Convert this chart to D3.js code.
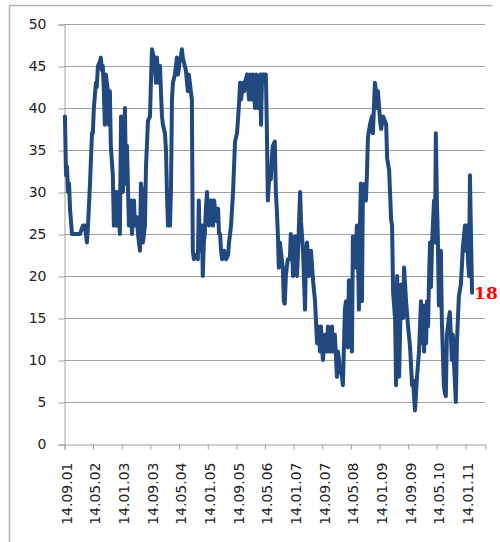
<!DOCTYPE html>
<html>
<head>
<meta charset="utf-8">
<script src="https://cdn.jsdelivr.net/npm/d3@7"></script>
<style>
  html, body { margin: 0; padding: 0; background: #ffffff; }
  svg { display: block; }
</style>
</head>
<body>
<svg id="chart" width="500" height="542"></svg>
<script>
// ---- data ----
const dates = [
"2001-09-22","2001-10-01","2001-10-10","2001-10-18","2001-10-27","2001-11-04","2001-11-21","2001-12-25","2002-01-28","2002-02-22","2002-03-11","2002-03-28","2002-04-06","2002-04-23","2002-05-10",
"2002-05-17","2002-05-26","2002-06-12","2002-06-20","2002-06-29","2002-07-16","2002-07-24","2002-08-02","2002-08-10","2002-08-19","2002-08-27","2002-09-05","2002-09-13","2002-09-22","2002-09-30","2002-10-09","2002-10-17","2002-11-03","2002-11-12","2002-11-20","2002-11-29","2002-12-07","2002-12-16","2003-01-02",
"2003-01-12","2003-01-20","2003-01-28","2003-02-14","2003-02-23","2003-03-03","2003-03-20","2003-04-06","2003-04-15","2003-05-02","2003-05-10","2003-05-27","2003-06-05","2003-06-22","2003-06-30","2003-07-09","2003-07-17","2003-07-26","2003-08-03","2003-08-12","2003-08-29",
"2003-09-15","2003-09-23","2003-10-02","2003-10-19","2003-10-27","2003-11-05","2003-11-13","2003-11-22","2003-11-30","2003-12-09","2003-12-17","2003-12-26","2004-01-03","2004-01-20","2004-01-29","2004-02-06","2004-02-15","2004-03-03","2004-03-11","2004-03-20","2004-03-28","2004-04-14","2004-04-23","2004-05-01","2004-05-10",
"2004-05-26","2004-06-03","2004-06-12","2004-06-20","2004-07-07","2004-07-16","2004-08-02","2004-08-10","2004-08-19","2004-08-27","2004-09-05","2004-09-13","2004-09-22","2004-10-09","2004-10-26","2004-11-03","2004-11-12","2004-11-20","2004-11-29","2004-12-07","2004-12-16","2004-12-24","2005-01-02",
"2005-01-12","2005-01-21","2005-01-29","2005-02-07","2005-02-15","2005-02-24","2005-03-04","2005-03-13","2005-03-21","2005-03-30","2005-04-07","2005-04-16","2005-04-24","2005-05-03","2005-05-11","2005-05-20","2005-06-06","2005-06-23","2005-07-10","2005-07-18","2005-08-04","2005-08-21","2005-09-07",
"2005-09-24","2005-10-11","2005-10-20","2005-10-28","2005-11-14","2005-11-23","2005-12-01","2005-12-18","2006-01-04","2006-01-13","2006-01-30","2006-02-07","2006-02-24","2006-03-05","2006-03-22","2006-03-30","2006-04-08","2006-04-16","2006-04-25",
"2006-05-10","2006-05-27","2006-06-04","2006-06-13","2006-06-30","2006-07-08","2006-07-17","2006-07-25","2006-08-11","2006-08-20","2006-08-28","2006-09-06","2006-09-14","2006-09-23","2006-10-01","2006-10-10","2006-10-18","2006-10-27","2006-11-04","2006-11-13","2006-11-21","2006-11-30","2006-12-17","2006-12-25","2007-01-03",
"2007-01-13","2007-01-22","2007-01-30","2007-02-08","2007-02-16","2007-02-25","2007-03-14","2007-03-22","2007-04-08","2007-04-25","2007-05-04","2007-05-12","2007-05-29","2007-06-15","2007-07-02","2007-07-19","2007-08-05","2007-08-14","2007-08-31",
"2007-09-07","2007-09-24","2007-10-11","2007-10-28","2007-11-06","2007-11-23","2007-12-10","2007-12-18","2008-01-04","2008-01-21","2008-01-30","2008-02-16","2008-03-04","2008-03-12","2008-03-29","2008-04-07","2008-04-24","2008-05-02",
"2008-05-19","2008-05-28","2008-06-05","2008-06-22","2008-07-09","2008-07-18","2008-07-26","2008-08-04","2008-08-12","2008-08-21","2008-08-29","2008-09-15","2008-09-24","2008-10-02","2008-10-11","2008-10-28","2008-11-14","2008-11-22","2008-12-09","2008-12-18","2008-12-26","2009-01-04",
"2009-01-22","2009-01-31","2009-02-17","2009-03-15","2009-03-23","2009-04-09","2009-04-26","2009-05-04","2009-05-13","2009-05-30","2009-06-07","2009-06-16","2009-07-03","2009-07-20","2009-08-06","2009-08-14","2009-08-31",
"2009-09-17","2009-10-04","2009-10-21","2009-10-29","2009-11-15","2009-12-02","2009-12-19","2010-01-05","2010-01-14","2010-01-22","2010-01-31","2010-02-08","2010-02-17","2010-02-25","2010-03-06","2010-03-14","2010-03-23","2010-03-31","2010-04-09","2010-04-26","2010-05-04",
"2010-05-11","2010-05-20","2010-05-28","2010-06-06","2010-06-14","2010-06-23","2010-07-01","2010-07-18","2010-07-27","2010-08-04","2010-08-13","2010-08-30","2010-09-07","2010-09-16","2010-09-24","2010-10-03","2010-10-11","2010-10-28","2010-11-06","2010-11-23","2010-12-10","2010-12-18","2010-12-27",
"2011-01-14","2011-01-22","2011-01-31","2011-02-08","2011-02-17","2011-02-25","2011-03-06","2011-03-15"
];
const values = [
39,32,33,30,31,28,25,25,25,26,26,24,26,31,37,
37,40,43,42.5,45,45.5,46,44.5,45,42,38,44,43,42,38,42,35.5,32,26,29,30,26,30,25,
39,31,30,40,31,35.5,26,29,25,29,26,27,25,23,31,30,24,25,26,33,38.5,
39,43,47,46,45,43,46,44,43,45,42,39,38,37,35,30,26,26,30,41,43,44,45,46,44,
45.7,46,47,46,45,44.5,42,44,43,42,41,23,22,22.5,22,29,23,24,26,20,24,25,28,
30,27,26,29,28,29,26,29,28,27,26.5,28,25,25,23,22,23,22,22.5,24,26,30,36,
37,40.5,43,41,43,42,43,44,41,44,41,44,40,44,40,43,44,38,44,
44,44,38,29,33,31.5,34,35.5,36,30,28,25,21,24,23,22,21,17,16.7,20,21,22,22,25,24,
20,22,24.7,22,20,23,30,26.5,23,16,23,24,20,23,19.5,17,12,14,11,
14,10,13,11,14,11,14,11,13,8,11,9,8,7,16,17,11.5,19.5,
15,11,24.7,21,26,23,16,26,31,17,30.5,31,29,32,36.5,38,39,37,43,42,40,42,
38.5,37.5,39,38,34,32.6,26.7,26,18,14.8,7,20,8,19,15,21,17,
14,11.5,7,7.6,4,8,11,17,12,16.5,11,16.5,12,17,14,19.5,24,18.7,24,29,24,
37,29,24.7,16.5,21,23,14.8,7,6,5.7,13,15,15.7,13,10,13,10,5,12,17.6,19,21,23.5,
26,23,26,22,20,32,24.7,18
];
const tickDates = ["2001-09-14","2002-05-14","2003-01-14","2003-09-14","2004-05-14","2005-01-14","2005-09-14","2006-05-14","2007-01-14","2007-09-14","2008-05-14","2009-01-14","2009-09-14","2010-05-14","2011-01-14"];
const yTicks = [0,5,10,15,20,25,30,35,40,45,50];
const lastLabel = "18";
const axisStart = "2001-09-14";
const axisEnd = "2011-07-03";

// ---- drawing ----
const parse = d3.timeParse("%Y-%m-%d");
const fmt = d3.timeFormat("%d.%m.%y");
const data = dates.map((d, i) => ({ date: parse(d), value: values[i] }));

const svg = d3.select("#chart");
const plot = { left: 64, right: 485, top: 24, bottom: 444 };

const x = d3.scaleTime().domain([parse(axisStart), parse(axisEnd)]).range([plot.left, plot.right]);
const y = d3.scaleLinear().domain([0, 50]).range([plot.bottom, plot.top]);

// outer frame
svg.append("path")
  .attr("d", "M492.5,5.5 H9.5 V542")
  .attr("fill", "none").attr("stroke", "#b4b4b4").attr("stroke-width", 1.5);

// gridlines
svg.append("g").selectAll("line").data(yTicks.filter(t => t > 0)).join("line")
  .attr("x1", plot.left).attr("x2", plot.right)
  .attr("y1", d => Math.round(y(d)) + 0.5).attr("y2", d => Math.round(y(d)) + 0.5)
  .attr("stroke", "#a0a0a0").attr("stroke-width", 1);

// y axis
const yAxis = d3.axisLeft(y).tickValues(yTicks).tickSize(6).tickPadding(12);
const gy = svg.append("g").attr("transform", `translate(${plot.left + 0.5},0.5)`).call(yAxis);
gy.select(".domain").attr("stroke", "#a0a0a0");
gy.selectAll(".tick line").attr("stroke", "#a0a0a0");
gy.selectAll(".tick text")
  .attr("font-family", "DejaVu Sans, Verdana, sans-serif")
  .attr("font-size", 14).attr("fill", "#222");

// x axis
const xAxis = d3.axisBottom(x).tickValues(tickDates.map(parse)).tickSize(5).tickFormat(fmt);
const gx = svg.append("g").attr("transform", `translate(0.5,${plot.bottom + 0.5})`).call(xAxis);
gx.select(".domain").attr("stroke", "#a0a0a0");
gx.selectAll(".tick line").attr("stroke", "#a0a0a0");
gx.selectAll(".tick text")
  .attr("font-family", "DejaVu Sans, Verdana, sans-serif")
  .attr("font-size", 14).attr("fill", "#222")
  .attr("text-anchor", "end")
  .attr("dy", null)
  .attr("y", 0)
  .attr("transform", "translate(7,18) rotate(-90)");

// line
const line = d3.line().x(d => x(d.date)).y(d => y(d.value));
svg.append("path").datum(data)
  .attr("d", line)
  .attr("fill", "none")
  .attr("stroke", "#21497f")
  .attr("stroke-width", 4)
  .attr("stroke-linejoin", "round")
  .attr("stroke-linecap", "round");

// last value label
const last = data[data.length - 1];
svg.append("text")
  .attr("x", x(last.date) + 2)
  .attr("y", y(last.value) + 6)
  .attr("font-family", "DejaVu Serif, serif")
  .attr("font-weight", "bold")
  .attr("font-size", 17)
  .attr("fill", "#ff0000")
  .text(lastLabel);
</script>
</body>
</html>
